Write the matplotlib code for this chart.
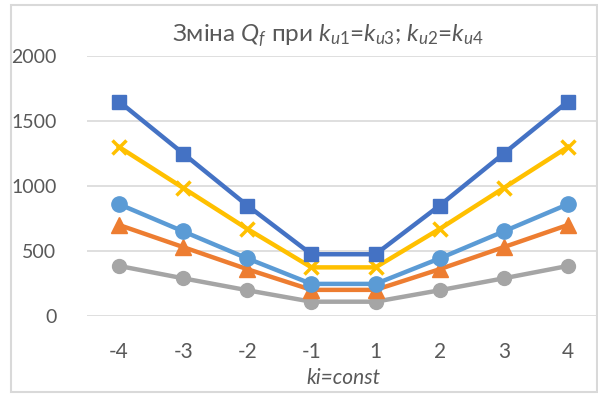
import matplotlib
matplotlib.use("Agg")
import matplotlib.pyplot as plt
from matplotlib.patches import Rectangle

plt.rcParams['font.family'] = ['Lato', 'DejaVu Sans']
plt.rcParams['mathtext.fontset'] = 'custom'
plt.rcParams['mathtext.rm'] = 'Lato'
plt.rcParams['mathtext.it'] = 'Lato:italic'

categories = ['-4', '-3', '-2', '-1', '1', '2', '3', '4']

s_blue = [1650, 1250, 850, 475, 475, 850, 1250, 1650]
s_orange = [700, 530, 360, 201, 201, 360, 530, 700]
s_gray = [385, 290, 198, 110, 110, 198, 290, 385]
s_yellow = [1300, 985, 670, 374, 374, 670, 985, 1300]
s_lightblue = [860, 651, 443, 247, 247, 443, 651, 860]

yticks = [0, 500, 1000, 1500, 2000]

W, H = 598, 394
fig = plt.figure(figsize=(W / 100, H / 100), dpi=100)
fig.patch.set_facecolor('white')

# chart border
fig.patches.append(Rectangle((11 / W, 2 / H), (W - 12) / W, (H - 7) / H,
                             transform=fig.transFigure, fill=False,
                             edgecolor='#d9d9d9', linewidth=1.5))

left, right = 87, 600
bottom, top = 316, 56
ax = fig.add_axes([left / W, 1 - bottom / H, (right - left) / W, (bottom - top) / H])
ax.set_facecolor('none')

x = list(range(len(categories)))
lw = 3.2
ax.plot(x, s_gray, color='#A5A5A5', lw=lw, marker='o', ms=10, clip_on=False, zorder=3)
ax.plot(x, s_orange, color='#ED7D31', lw=lw, marker='^', ms=11, clip_on=False, zorder=4)
ax.plot(x, s_lightblue, color='#5B9BD5', lw=lw, marker='o', ms=11, clip_on=False, zorder=5)
ax.plot(x, s_yellow, color='#FFC000', lw=lw, marker='x', ms=10, mew=2.5, clip_on=False, zorder=6)
ax.plot(x, s_blue, color='#4472C4', lw=lw, marker='s', ms=10, clip_on=False, zorder=7)

ax.set_xlim(-0.5, len(categories) - 0.5)
ax.set_ylim(0, 2000)
ax.set_yticks(yticks)
ax.set_yticklabels([str(v) for v in yticks])
ax.set_xticks(x)
ax.set_xticklabels(categories)
ax.grid(axis='y', color='#d9d9d9', lw=1.2)
ax.set_axisbelow(True)
for s in ax.spines.values():
    s.set_visible(False)
ax.tick_params(length=0, labelsize=15, labelcolor='#595959')
ax.tick_params(axis='y', pad=22, labelsize=14)
ax.tick_params(axis='x', pad=19)

ax.set_xlabel('ki=const', fontsize=15, color='#595959', style='italic', labelpad=4)

fig.text(328 / W, 1 - 36 / H,
         r'Зміна $Q_f$ при $k_{u1}$=$k_{u3}$; $k_{u2}$=$k_{u4}$',
         ha='center', va='center', fontsize=17.5, color='#595959')

fig.savefig('out.png', dpi=100)
